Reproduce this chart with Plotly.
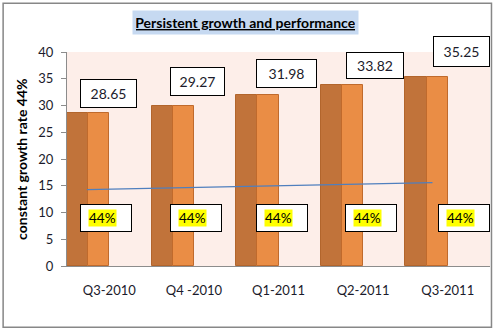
import plotly.graph_objects as go

# ---- data ----
quarters = ["Q3-2010", "Q4 -2010", "Q1-2011", "Q2-2011", "Q3-2011"]
series_a = [28.65, 30.0, 31.98, 33.82, 35.25]   # darker bars
series_b = [28.65, 30.0, 31.98, 33.82, 35.25]   # lighter bars
value_labels = ["28.65", "29.27", "31.98", "33.82", "35.25"]
rate_labels = ["44%", "44%", "44%", "44%", "44%"]
trend_x = [-0.264, 3.82]
trend_y = [14.27, 15.58]
y_ticks = [0, 5, 10, 15, 20, 25, 30, 35, 40]

FONT = "Lato, 'Open Sans', sans-serif"
TXT = "#1b1b2b"

idx = list(range(len(quarters)))

fig = go.Figure()
fig.add_trace(go.Bar(x=idx, y=series_a, offset=-0.5, width=0.25,
                     marker=dict(color="#C1733A", line=dict(color="#B2652C", width=1)),
                     showlegend=False, hoverinfo="skip"))
fig.add_trace(go.Bar(x=idx, y=series_b, offset=-0.25, width=0.25,
                     marker=dict(color="#EA8D45", line=dict(color="#C06A2C", width=1)),
                     showlegend=False, hoverinfo="skip"))
fig.add_trace(go.Scatter(x=trend_x, y=trend_y, mode="lines",
                         line=dict(color="#4F7FBE", width=1.2),
                         showlegend=False, hoverinfo="skip"))

annotations = []
# value label boxes (offsets in px relative to bar top / category centre)
val_dx = [-0.8, 3.4, 7.8, 11.6, 13.6]
val_dy = [19, 23.8, 21.1, 19.4, 26.1]
val_w = [55, 53, 59, 56, 55]
val_h = [27, 27, 27, 25, 29]
for i, (v, t) in enumerate(zip(series_a, value_labels)):
    annotations.append(dict(x=i, y=v, xref="x", yref="y", text=t, showarrow=False,
                            xshift=val_dx[i], yshift=val_dy[i], width=val_w[i], height=val_h[i],
                            bgcolor="white", bordercolor="black", borderwidth=1, borderpad=0,
                            font=dict(family=FONT, size=14, color=TXT)))
# rate label boxes
rate_dx = [-3.5, 2.3, 3.5, 7.9, 16.1]
for i, t in enumerate(rate_labels):
    annotations.append(dict(x=i, y=0, xref="x", yref="y", text="", showarrow=False,
                            xshift=rate_dx[i], yshift=47.7, width=49.5, height=26,
                            bgcolor="white", bordercolor="black", borderwidth=1, borderpad=0))
    annotations.append(dict(x=i, y=0, xref="x", yref="y", text=t, showarrow=False,
                            xshift=rate_dx[i] - 3.8, yshift=48.5, borderpad=0,
                            bgcolor="#FFFF00",
                            font=dict(family=FONT, size=13.5, color="black")))
# title
annotations.append(dict(x=0.423, y=1.139, xref="paper", yref="paper", showarrow=False,
                        xanchor="center", yanchor="middle",
                        text="<b><u>Persistent growth and performance</u></b>",
                        bgcolor="#C6D9F1", borderpad=3, width=219,
                        font=dict(family=FONT, size=14, color="black")))
# y axis title
annotations.append(dict(x=-0.109, y=0.5, xref="paper", yref="paper", showarrow=False,
                        xanchor="center", yanchor="middle",
                        text="<b>constant growth rate 44%</b>", textangle=-90,
                        font=dict(family=FONT, size=14, color="black")))

fig.update_layout(
    width=496, height=330,
    margin=dict(l=67, r=6, t=52, b=64),
    paper_bgcolor="white", plot_bgcolor="#FDEEE9",
    barmode="overlay", bargap=0,
    annotations=annotations,
    shapes=[dict(type="rect", xref="paper", yref="paper",
                 x0=-0.151, x1=1.0035, y0=-0.286, y1=1.228,
                 line=dict(color="#878787", width=1.5))],
    xaxis=dict(range=[-0.5, 4.5], tickvals=idx, ticktext=quarters,
               showgrid=False, zeroline=False, showline=True, linecolor="#8C8C8C", linewidth=1,
               ticks="", ticklabelstandoff=12,
               tickfont=dict(family=FONT, size=13, color=TXT)),
    yaxis=dict(range=[0, 40], tickvals=y_ticks, showgrid=False, zeroline=False,
               showline=True, linecolor="#8C8C8C", linewidth=1,
               ticks="outside", ticklen=5, tickcolor="#8C8C8C", ticklabelstandoff=5,
               tickfont=dict(family=FONT, size=13, color=TXT)),
)

fig.write_html("out.html")
